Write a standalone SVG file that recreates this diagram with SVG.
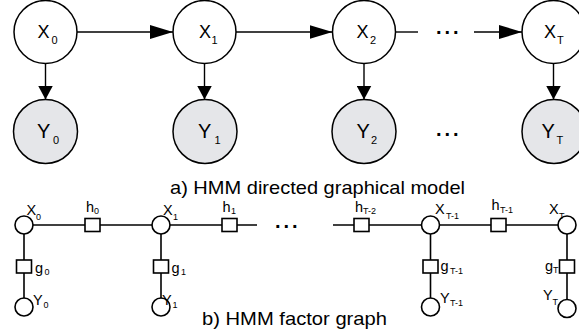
<svg xmlns="http://www.w3.org/2000/svg" width="579" height="334" viewBox="0 0 579 334">
<style>
text{font-family:"Liberation Sans",Arial,sans-serif;fill:#000}
.big{stroke:#000;stroke-width:1.5;fill:#fff}
.obs{stroke:#000;stroke-width:1.5;fill:#e5e6e9}
.edge{stroke:#000;stroke-width:1.4;fill:none}
.fe{stroke:#000;stroke-width:1.6;fill:none}
.sm{stroke:#000;stroke-width:1.6;fill:#fff}
.lx{font-size:18px}
.ly{font-size:20px}
.ls{font-size:11px}
.fl{font-size:14.5px}
.fs{font-size:9px}
.cap{font-size:19px}
.dots{font-size:20px;font-weight:bold;letter-spacing:3px}
</style>
<defs>
<marker id="ah" markerUnits="userSpaceOnUse" markerWidth="24" markerHeight="14" refX="23" refY="7" orient="auto"><path d="M0,0 L23,7 L0,14 z" fill="#000"/></marker>
<marker id="av" markerUnits="userSpaceOnUse" markerWidth="15" markerHeight="15" refX="14" refY="7.5" orient="auto"><path d="M0,0 L14,7.5 L0,15 z" fill="#000"/></marker>
</defs>
<g id="connectors">
<path class="edge" d="M77,32 H173" marker-end="url(#ah)"/>
<path class="edge" d="M236,32 H332.5" marker-end="url(#ah)"/>
<path class="edge" d="M396,32 H418"/>
<path class="edge" d="M474,32 H522" marker-end="url(#ah)"/>
<path class="edge" d="M45.5,63.5 V99.5" marker-end="url(#av)"/>
<path class="edge" d="M204.5,63.5 V99.5" marker-end="url(#av)"/>
<path class="edge" d="M364,64 V99.5" marker-end="url(#av)"/>
<path class="edge" d="M553.5,63.5 V99.5" marker-end="url(#av)"/>
<path class="fe" d="M24,225 H257"/>
<path class="fe" d="M333,225 H567"/>
<path class="fe" d="M24,225 V307"/>
<path class="fe" d="M161,225 V307"/>
<path class="fe" d="M430.5,225 V307"/>
<path class="fe" d="M567,225 V308.5"/>
</g>
<text class="dots" x="436" y="34">...</text>
<text class="dots" x="436" y="136">...</text>
<text class="dots" x="275" y="228">...</text>
<g id="X0"><circle class="big" cx="45.5" cy="32" r="31.5"/><text class="lx" x="37.5" y="37.5">X</text><text class="ls" x="51.5" y="44">0</text></g>
<g id="X1"><circle class="big" cx="204.5" cy="32" r="31.5"/><text class="lx" x="199" y="37.5">X</text><text class="ls" x="211.5" y="44">1</text></g>
<g id="X2"><circle class="big" cx="364" cy="32" r="31.5"/><text class="lx" x="356.5" y="37.5">X</text><text class="ls" x="370" y="44">2</text></g>
<g id="XT"><circle class="big" cx="553.5" cy="32" r="31.5"/><text class="lx" x="544" y="37.5">X</text><text class="ls" x="557" y="44">T</text></g>
<g id="Y0"><circle class="obs" cx="45.5" cy="131.5" r="32"/><text class="ly" x="37" y="137.5">Y</text><text class="ls" x="53" y="143.5">0</text></g>
<g id="Y1"><circle class="obs" cx="205" cy="131.5" r="32"/><text class="ly" x="198" y="137.5">Y</text><text class="ls" x="214.5" y="143.5">1</text></g>
<g id="Y2"><circle class="obs" cx="364" cy="131.5" r="32"/><text class="ly" x="356.5" y="137.5">Y</text><text class="ls" x="371" y="143.5">2</text></g>
<g id="YT"><circle class="obs" cx="554" cy="131.5" r="32"/><text class="ly" x="541.5" y="137.5">Y</text><text class="ls" x="556.5" y="143.5">T</text></g>
<text class="cap" x="170" y="194" textLength="295" lengthAdjust="spacingAndGlyphs">a) HMM directed graphical model</text>
<g id="fX0"><circle class="sm" cx="24" cy="225" r="9"/><text class="fl" x="26.5" y="215">X</text><text class="fs" x="36" y="220">0</text></g>
<g id="fh0"><rect class="sm" x="85" y="218.5" width="15" height="13"/><text class="fl" x="86" y="212">h</text><text class="fs" x="94" y="214">0</text></g>
<g id="fX1"><circle class="sm" cx="161" cy="225" r="9"/><text class="fl" x="163" y="215">X</text><text class="fs" x="173" y="220">1</text></g>
<g id="fh1"><rect class="sm" x="222" y="218.5" width="15" height="13"/><text class="fl" x="222.5" y="212">h</text><text class="fs" x="231" y="214">1</text></g>
<g id="fg0"><rect class="sm" x="16.5" y="260" width="15" height="13"/><text class="fl" x="35" y="273">g</text><text class="fs" x="44.5" y="275">0</text></g>
<g id="fg1"><rect class="sm" x="153.5" y="260" width="15" height="13"/><text class="fl" x="171.5" y="273">g</text><text class="fs" x="181" y="275">1</text></g>
<g id="fY0"><circle class="sm" cx="24" cy="307" r="9"/><text class="fl" x="33" y="305">Y</text><text class="fs" x="43.5" y="308">0</text></g>
<g id="fY1"><circle class="sm" cx="161" cy="307" r="9"/><text class="fl" x="162" y="305">Y</text><text class="fs" x="172.5" y="308">1</text></g>
<g id="fhT2"><rect class="sm" x="354" y="218.5" width="15" height="13"/><text class="fl" x="355" y="212">h</text><text class="fs" x="363" y="214">T-2</text></g>
<g id="fXT1"><circle class="sm" cx="430.5" cy="225" r="9"/><text class="fl" x="435" y="213.5">X</text><text class="fs" x="446" y="219">T-1</text></g>
<g id="fhT1"><rect class="sm" x="491" y="218.5" width="15" height="13"/><text class="fl" x="491.5" y="210">h</text><text class="fs" x="500" y="213">T-1</text></g>
<g id="fXT"><circle class="sm" cx="567" cy="225" r="9"/><text class="fl" x="549" y="213.5">X</text><text class="fs" x="559" y="219">T</text></g>
<g id="fgT1"><rect class="sm" x="423" y="260" width="15" height="13"/><text class="fl" x="440.5" y="271">g</text><text class="fs" x="450" y="274">T-1</text></g>
<g id="fgT"><rect class="sm" x="559.5" y="260" width="15" height="13"/><text class="fl" x="545" y="271">g</text><text class="fs" x="553" y="273">T</text></g>
<g id="fYT1"><circle class="sm" cx="430.5" cy="307" r="9"/><text class="fl" x="440" y="303">Y</text><text class="fs" x="450" y="306">T-1</text></g>
<g id="fYT"><circle class="sm" cx="567" cy="308.5" r="9"/><text class="fl" x="543" y="300">Y</text><text class="fs" x="552.5" y="305">T</text></g>
<text class="cap" x="202" y="325" textLength="185" lengthAdjust="spacingAndGlyphs">b) HMM factor graph</text>
</svg>
